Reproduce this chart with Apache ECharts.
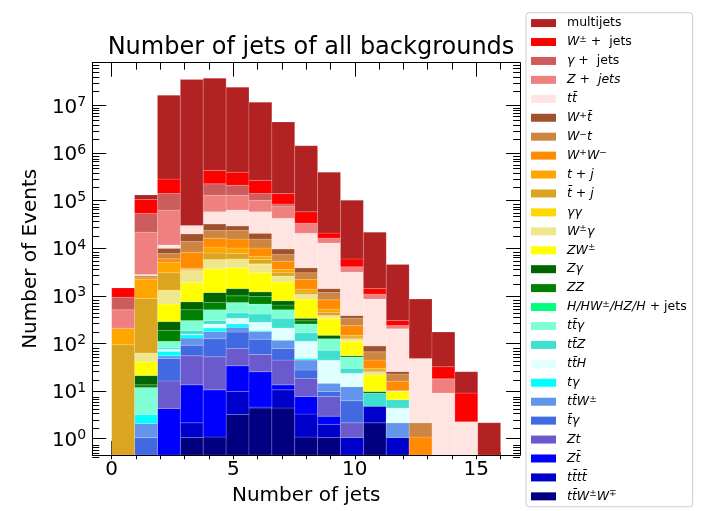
<!DOCTYPE html>
<html><head><meta charset="utf-8">
<script src="https://cdn.jsdelivr.net/npm/echarts@6.0.0/dist/echarts.min.js"></script>
<style>html,body{margin:0;padding:0;background:#fff}#c{width:701px;height:511px}</style>
</head><body><div id="c"></div>
<script>
// ---- histogram definition ----
const binCount = 17;
const binRange = [0, 16];
const xTicks = [0, 5, 10, 15];
const yTicks = [1, 10, 100, 1e3, 1e4, 1e5, 1e6, 1e7];
const yTickExp = ['0', '1', '2', '3', '4', '5', '6', '7'];

// ---- per-background counts, bins 0..16 ----
const ttWW     = [0, 0, 0, 1.05, 1.08, 3.2, 4.4, 4.4, 1.08, 1.05, 0, 2.15, 0, 0, 0, 0, 0];
const tttt     = [0, 0, 0, 1.1, 0, 6.6, 0.2, 6.2, 2.2, 0.94, 1.05, 2.63, 1.05, 0, 0, 0, 0];
const Ztbar    = [0, 0, 4.3, 11.35, 9.5, 24.2, 20.9, 2.9, 4.4, 0.97, 0, 0, 0, 0, 0, 0, 0];
const Zt       = [0, 0, 12, 41.5, 41.7, 44, 33, 31.1, 10.8, 4.7, 1.1, 0, 0, 0, 0, 0, 0];
const tbarGam  = [0, 1.05, 32, 36.6, 73.7, 95, 63.5, 33.4, 9.1, 2.1, 4.1, 0, 0, 0, 0, 0, 0];
const ttW      = [0, 1.03, 6.7, 38.4, 53, 47, 57, 38, 17, 4.8, 6.1, 0, 1.1, 0, 0, 0, 0];
const tGam     = [0, 1.12, 13.6, 22, 31, 38, 8, 4, 3.4, 0, 0, 0, 0, 0, 0, 0, 0];
const ttH      = [0, 0, 6.9, 5, 47, 81, 92, 90, 63, 30, 11.2, 0, 2.26, 0, 0, 0, 0];
const ttZ      = [0, 0, 5, 30.5, 46, 98, 138, 129, 57, 27.4, 6.4, 4.26, 2.16, 0, 0, 0, 0];
const ttGam    = [0, 8.7, 30, 115.5, 209, 291, 255, 173, 89, 54, 22, 0, 0, 0, 0, 0, 0];
const Hjets    = [0, 0, 0, 0, 0, 0, 0, 0, 0, 0, 0, 0, 0, 0, 0, 0, 0];
const ZZ       = [0, 1.6, 76.7, 209, 216, 272, 298, 129, 43, 0, 0, 0, 0, 0, 0, 0, 0];
const ZGam     = [0, 7.6, 100, 239, 447, 420, 243, 148, 39, 22, 3, 0.76, 0, 0, 0, 0, 0];
const ZW       = [0, 20.1, 384, 1146, 2535, 2470, 1847, 1171, 515, 191, 56, 11.9, 3.2, 0, 0, 0, 0];
const WGam     = [0, 22, 601, 1573, 2090, 2090, 1500, 650, 231, 46, 15, 3.8, 0.3, 0, 0, 0, 0];
const GamGam   = [0, 0, 57, 0, 0, 0, 140, 0, 0, 0, 0, 0, 0, 0, 0, 0, 0];
const tbarJ    = [94, 818, 1730, 130, 2150, 1750, 1100, 450, 115, 65, 10, 2, 0, 0, 0, 0, 0];
const tJ       = [115, 1342, 2040, 200, 2650, 2370, 990, 530, 180, 76, 12, 2.5, 0, 0, 0, 0, 0];
const WW       = [0, 177, 890, 4430, 5700, 5500, 3310, 1760, 840, 302, 90, 14.6, 6, 1.08, 0, 0, 0];
const Wmt      = [0, 250, 1740, 5670, 7300, 8000, 5500, 2010, 840, 347, 101, 21.9, 6.7, 1.07, 0, 0, 0];
const Wptbar   = [0, 0, 2270, 6200, 8800, 5900, 5200, 2300, 830, 245, 46, 22.1, 3, 0, 0, 0, 0];
const ttbar    = [0, 150, 1700, 9900, 26200, 33900, 37800, 32900, 16900, 11500, 2775, 765, 177.5, 46.2, 9.04, 2.26, 0];
const Zjets    = [302, 19000, 51700, 0, 71400, 66600, 43400, 34300, 12700, 3400, 910, 231, 35, 0, 9, 0, 0];
const gamJets  = [426, 32300, 77600, 0, 97000, 80000, 39000, 8100, 0, 0, 0, 0, 0, 0, 0, 0, 0];
const Wjets    = [532, 51600, 143000, 0, 204000, 188000, 126000, 56000, 25100, 4500, 1910, 335, 65, 0, 14.4, 6.78, 0];
const multijets = [0, 26300, 1.61e7, 3.5e7, 3.71e7, 2.39e7, 1.15e7, 4.36e6, 1.37e6, 3.77e5, 96000, 20400, 4260, 806, 140.6, 16.5, 2.15];

// legend order (top of legend = top of stack)
const names = ['multijets', 'W± + jets', 'γ + jets', 'Z + jets', 'tt̄', 'W⁺t̄', 'W⁻t', 'W⁺W⁻', 't + j', 't̄ + j',
  'γγ', 'W±γ', 'ZW±', 'Zγ', 'ZZ', 'H/HW±/HZ/H + jets', 'tt̄γ', 'tt̄Z', 'tt̄H', 'tγ', 'tt̄W±', 't̄γ', 'Zt', 'Zt̄', 'tt̄tt̄', 'tt̄W±W∓'];
const richNames = ['{n|multijets}', '{i|W}{s|±}{n| +  jets}', '{i|γ}{n| +  jets}', '{i|Z +  jets}', '{i|tt̄}',
  '{i|W}{s|+}{i|t̄}', '{i|W}{s|−}{i|t}', '{i|W}{s|+}{i|W}{s|−}', '{i|t + j}', '{i|t̄ + j}', '{i|γγ}', '{i|W}{s|±}{i|γ}',
  '{i|ZW}{s|±}', '{i|Zγ}', '{i|ZZ}', '{i|H/HW}{s|±}{i|/HZ/H + }{n|jets}', '{i|tt̄γ}', '{i|tt̄Z}', '{i|tt̄H}', '{i|tγ}',
  '{i|tt̄W}{s|±}', '{i|t̄γ}', '{i|Zt}', '{i|Zt̄}', '{i|tt̄tt̄}', '{i|tt̄W}{s|±}{i|W}{s|∓}'];
const values = [multijets, Wjets, gamJets, Zjets, ttbar, Wptbar, Wmt, WW, tJ, tbarJ, GamGam, WGam, ZW, ZGam, ZZ, Hjets,
  ttGam, ttZ, ttH, tGam, ttW, tbarGam, Zt, Ztbar, tttt, ttWW];
const colors = ['#B22222', '#FF0000', '#CD5C5C', '#F08080', '#FFE4E1', '#A0522D', '#CD853F', '#FF8C00', '#FFA500', '#DAA520',
  '#FFD700', '#F0E68C', '#FFFF00', '#006400', '#008000', '#00FF7F', '#7FFFD4', '#40E0D0', '#E0FFFF', '#00FFFF',
  '#6495ED', '#4169E1', '#6A5ACD', '#0000FF', '#0000CD', '#000080'];

const yMin = Math.pow(10, -0.345), yMax = Math.pow(10, 7.9);
const xMin = -0.8, xMax = 16.8;
const FONT = 'DejaVu Sans';

// build stacked items (bottom of stack = last in legend)
const binW = (binRange[1] - binRange[0]) / binCount;
const cum = new Array(binCount).fill(0);
const series = [];
for (let s = names.length - 1; s >= 0; s--) {
  const data = [];
  for (let b = 0; b < binCount; b++) {
    const base = cum[b];
    const top = base + values[s][b];
    cum[b] = top;
    data.push([binRange[0] + b * binW, binRange[0] + (b + 1) * binW, base, top]);
  }
  series.push({
    type: 'custom', name: names[s], xAxisIndex: 0, yAxisIndex: 0, clip: true,
    itemStyle: { color: colors[s] },
    encode: { x: [0, 1], y: [2, 3] },
    data: data,
    renderItem: function (params, api) {
      const x0 = api.value(0), x1 = api.value(1), b0 = api.value(2), t0 = api.value(3);
      if (!(t0 > b0)) return null;
      const cs = params.coordSys;
      const bottom = cs.y + cs.height;
      const pTop = api.coord([x0, t0]);
      const pRight = api.coord([x1, t0]);
      let yb = b0 > 0 ? api.coord([x0, b0])[1] : bottom;
      if (!(yb <= bottom)) yb = bottom;
      const yt = Math.max(pTop[1], cs.y);
      if (yt >= bottom) return null;
      return { type: 'rect', shape: { x: pTop[0], y: yt, width: pRight[0] - pTop[0], height: yb - yt },
        style: { fill: api.visual('color'), stroke: 'rgba(255,255,255,0.22)', lineWidth: 0.8 } };
    }
  });
}

const xMinor = []; for (let i = 0; i <= 16; i++) xMinor.push(i);
const yMinor = [];
for (let k = -1; k <= 7; k++) for (let m = 2; m <= 9; m++) { const v = m * Math.pow(10, k); if (v > yMin && v < yMax) yMinor.push(v); }

const lineBlack = { color: '#000', width: 1 };
function xAx(grid, pos, ticks, len, main) {
  return { gridIndex: grid, type: 'value', position: pos, min: xMin, max: xMax,
    axisLine: { show: main, onZero: false, lineStyle: lineBlack },
    axisTick: { show: true, inside: true, length: len, customValues: ticks, lineStyle: lineBlack },
    axisLabel: { show: false }, splitLine: { show: false } };
}
function yAx(grid, pos, ticks, len, main) {
  return { gridIndex: grid, type: 'log', logBase: 10, position: pos, min: yMin, max: yMax,
    axisLine: { show: main, onZero: false, lineStyle: lineBlack },
    axisTick: { show: true, inside: true, length: len, customValues: ticks, lineStyle: lineBlack },
    axisLabel: { show: false }, splitLine: { show: false }, minorSplitLine: { show: false } };
}
const xa0 = xAx(0, 'bottom', xTicks, 14, true);
xa0.axisLabel = { show: true, customValues: xTicks, fontSize: 20, fontFamily: FONT, color: '#000', margin: 5 };
xa0.name = 'Number of jets'; xa0.nameLocation = 'middle'; xa0.nameGap = 31;
xa0.nameTextStyle = { fontSize: 20, fontFamily: FONT, color: '#000' };
const ya0 = yAx(0, 'left', yTicks, 14, true);
ya0.axisLabel = { show: true, customValues: yTicks, margin: 6, color: '#000', padding: [4, 0, 0, 0],
  formatter: function (v) { const i = yTicks.indexOf(v); return i < 0 ? '' : '{b|10}{s|' + yTickExp[i] + '}'; },
  rich: { b: { fontSize: 20, fontFamily: FONT, color: '#000', lineHeight: 24 },
          s: { fontSize: 14, fontFamily: FONT, color: '#000', lineHeight: 10, verticalAlign: 'top' } } };
ya0.name = 'Number of Events'; ya0.nameLocation = 'middle'; ya0.nameGap = 46;
ya0.nameTextStyle = { fontSize: 20, fontFamily: FONT, color: '#000' };

const richMap = {}; names.forEach((n, i) => richMap[n] = richNames[i]);

const option = {
  animation: false,
  backgroundColor: '#fff',
  title: { text: 'Number of jets of all backgrounds', left: 306, top: 31, textAlign: 'center',
    textStyle: { fontSize: 24, fontWeight: 'normal', fontFamily: FONT, color: '#000' } },
  grid: [{ left: 92.25, top: 62.7, width: 427.85, height: 396.6 }, { left: 92.25, top: 62.7, width: 427.85, height: 396.6 }],
  xAxis: [xa0, xAx(0, 'top', xTicks, 14, true), xAx(1, 'bottom', xMinor, 7, false), xAx(1, 'top', xMinor, 7, false)],
  yAxis: [ya0, yAx(0, 'right', yTicks, 14, true), yAx(1, 'left', yMinor, 7, false), yAx(1, 'right', yMinor, 7, false)],
  legend: {
    data: names, orient: 'vertical', left: 526, top: 12.7, icon: 'rect', itemWidth: 25, itemHeight: 8, itemGap: 4.93,
    padding: [3.4, 6, 3.4, 5], selectedMode: false,
    backgroundColor: 'rgba(255,255,255,0.8)', borderColor: '#cccccc', borderWidth: 1, borderRadius: 3,
    formatter: function (n) { return richMap[n]; },
    textStyle: { fontSize: 12.5, fontFamily: FONT, color: '#000', lineHeight: 14, padding: [0, 0, 0, 6],
      rich: { n: { fontSize: 12.5, fontFamily: FONT, color: '#000', lineHeight: 14 },
              i: { fontSize: 12.5, fontFamily: FONT, fontStyle: 'italic', color: '#000', lineHeight: 14 },
              s: { fontSize: 9, fontFamily: FONT, color: '#000', lineHeight: 6, verticalAlign: 'top' } } }
  },
  series: series
};
const chart = echarts.init(document.getElementById('c'), null, { renderer: 'canvas' });
chart.setOption(option);
</script></body></html>
